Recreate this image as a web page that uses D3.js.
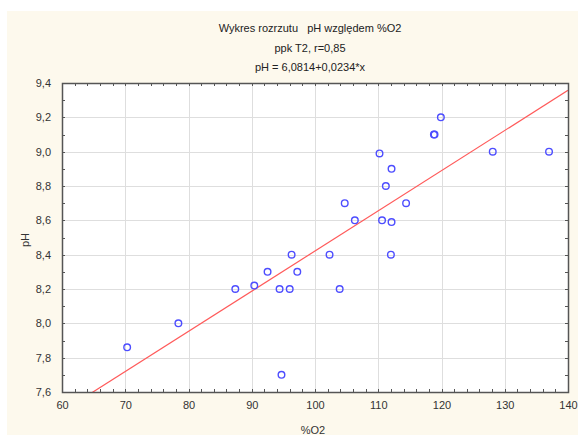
<!DOCTYPE html>
<html>
<head>
<meta charset="utf-8">
<script src="https://cdn.jsdelivr.net/npm/d3@7"></script>
<style>
  body { margin: 0; background: #ffffff; }
  svg text { font-family: "Liberation Sans", Arial, sans-serif; white-space: pre; }
</style>
</head>
<body>
<div id="chart"></div>
<script>
var w = 578;
var h = 439;

// data
var o2 = [70.3, 78.4, 87.4, 90.4, 92.5, 94.4, 94.7, 96.0, 96.3, 97.2, 102.3, 103.9, 104.7, 106.3,
          110.2, 110.6, 111.2, 112.1, 112.1, 112.0, 114.4, 118.8, 118.9, 119.9, 128.1, 137.0];
var ph = [7.86, 8.0, 8.2, 8.22, 8.3, 8.2, 7.7, 8.2, 8.4, 8.3, 8.4, 8.2, 8.7, 8.6,
          8.99, 8.6, 8.8, 8.9, 8.59, 8.4, 8.7, 9.1, 9.1, 9.2, 9.0, 9.0];
var xTicks = [60, 70, 80, 90, 100, 110, 120, 130, 140];
var yTicks = [7.6, 7.8, 8.0, 8.2, 8.4, 8.6, 8.8, 9.0, 9.2, 9.4];
var fitA = 6.0814, fitB = 0.0234;
var titles = ["Wykres rozrzutu   pH względem %O2", "ppk T2, r=0,85", "pH = 6,0814+0,0234*x"];

var pLeft = 62, pRight = 568, pTop = 83, pBottom = 392;

var fmt = function(d) { return d3.format(".1f")(d).replace(".", ","); };

var xScale = d3.scaleLinear().domain([60, 140]).range([pLeft, pRight]);
var yScale = d3.scaleLinear().domain([7.6, 9.4]).range([pBottom, pTop]);

var svg = d3.select("#chart").append("svg")
    .attr("width", w)
    .attr("height", h);

// cream background
svg.append("rect")
    .attr("x", 7).attr("y", 11)
    .attr("width", w - 7).attr("height", 424)
    .attr("fill", "#fdf9ed");

svg.append("rect")
    .attr("x", pLeft).attr("y", pTop)
    .attr("width", pRight - pLeft).attr("height", pBottom - pTop)
    .attr("fill", "#ffffff");

// grid
svg.append("g").selectAll("line")
    .data(xTicks.slice(1, -1))
    .enter().append("line")
    .attr("x1", function(d) { return Math.round(xScale(d)) + 0.5; })
    .attr("x2", function(d) { return Math.round(xScale(d)) + 0.5; })
    .attr("y1", pTop).attr("y2", pBottom)
    .attr("stroke", "#dedede");
svg.append("g").selectAll("line")
    .data(yTicks.slice(1, -1))
    .enter().append("line")
    .attr("y1", function(d) { return Math.round(yScale(d)) + 0.5; })
    .attr("y2", function(d) { return Math.round(yScale(d)) + 0.5; })
    .attr("x1", pLeft).attr("x2", pRight)
    .attr("stroke", "#dedede");

// axes with inward ticks
var xMinor = d3.range(60, 141, 2);
var yMinor = d3.range(0, 19).map(function(i) { return 7.6 + i * 0.1; });

var xAxisB = d3.axisBottom(xScale).tickValues(xTicks).tickSize(0).tickPadding(9).tickFormat(d3.format("d"));
var gx = svg.append("g")
    .attr("transform", "translate(0," + pBottom + ")")
    .call(xAxisB);
gx.select(".domain").remove();
gx.selectAll("text").attr("font-size", "11px").attr("fill", "#333");

var yAxisL = d3.axisLeft(yScale).tickValues(yTicks).tickSize(0).tickPadding(11).tickFormat(fmt);
var gy = svg.append("g")
    .attr("transform", "translate(" + pLeft + ",0)")
    .call(yAxisL);
gy.select(".domain").remove();
gy.selectAll("text").attr("font-size", "11px").attr("fill", "#333");

var ticks = svg.append("g").attr("stroke", "#555").attr("stroke-width", 1);
xMinor.forEach(function(d) {
  var x = Math.round(xScale(d)) + 0.5;
  ticks.append("line").attr("x1", x).attr("x2", x).attr("y1", pBottom).attr("y2", pBottom - 3);
  ticks.append("line").attr("x1", x).attr("x2", x).attr("y1", pTop).attr("y2", pTop + 3);
});
yMinor.forEach(function(d) {
  var y = Math.round(yScale(d)) + 0.5;
  ticks.append("line").attr("x1", pLeft).attr("x2", pLeft + 3).attr("y1", y).attr("y2", y);
  ticks.append("line").attr("x1", pRight).attr("x2", pRight - 3).attr("y1", y).attr("y2", y);
});

// regression line, clipped to the plot
svg.append("clipPath").attr("id", "clip")
  .append("rect").attr("x", pLeft).attr("y", pTop)
  .attr("width", pRight - pLeft).attr("height", pBottom - pTop);

svg.append("line")
    .attr("clip-path", "url(#clip)")
    .attr("x1", xScale(60)).attr("y1", yScale(fitA + fitB * 60))
    .attr("x2", xScale(140)).attr("y2", yScale(fitA + fitB * 140))
    .attr("stroke", "#ff5a5a")
    .attr("stroke-width", 1.2);

// points
svg.append("g").selectAll("circle")
    .data(o2)
    .enter().append("circle")
    .attr("cx", function(d) { return xScale(d); })
    .attr("cy", function(d, i) { return yScale(ph[i]); })
    .attr("r", 3.3)
    .attr("fill", "none")
    .attr("stroke", "#4d4dff")
    .attr("stroke-width", 1.4);

// frame
svg.append("rect")
    .attr("x", pLeft + 0.5).attr("y", pTop + 0.5)
    .attr("width", pRight - pLeft).attr("height", pBottom - pTop)
    .attr("fill", "none")
    .attr("stroke", "#555")
    .attr("stroke-width", 1.5);

// titles
titles.forEach(function(t, i) {
  svg.append("text")
    .text(t)
    .attr("x", 310)
    .attr("y", 32 + i * 19.5)
    .attr("text-anchor", "middle")
    .attr("font-size", "11px")
    .attr("fill", "#222");
});

svg.append("text")
    .text("%O2")
    .attr("x", 313)
    .attr("y", 434)
    .attr("text-anchor", "middle")
    .attr("font-size", "11px")
    .attr("fill", "#333");

svg.append("text")
    .text("pH")
    .attr("transform", "translate(29,240) rotate(-90)")
    .attr("text-anchor", "middle")
    .attr("font-size", "11px")
    .attr("fill", "#333");
</script>
</body>
</html>
